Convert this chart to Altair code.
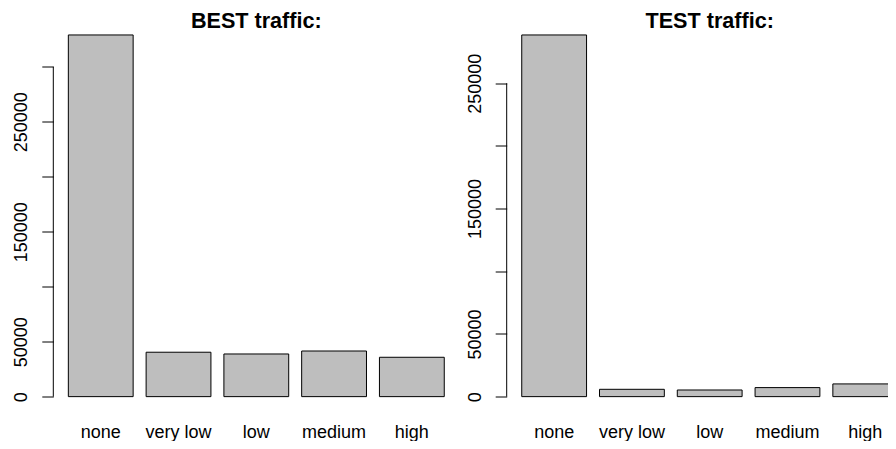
import altair as alt
import pandas as pd

categories = ["none", "very low", "low", "medium", "high"]
best_values = [329000, 40400, 38800, 41500, 35800]
test_values = [288500, 5850, 5300, 7200, 10150]
best_ticks = [0, 50000, 100000, 150000, 200000, 250000, 300000]
best_tick_labels = [0, 50000, 150000, 250000]
test_ticks = [0, 50000, 100000, 150000, 200000, 250000]
test_tick_labels = [0, 50000, 150000, 250000]
titles = ["BEST traffic:", "TEST traffic:"]

FONT = "Liberation Sans"
PANEL_W = 406          # width of one panel's plotting region
GAP = 453.4            # offset of the second panel's axis
PLOT_W = 834.7
PLOT_H = 390.6


def panel(values, ticks, tick_labels, title, x0):
    df = pd.DataFrame({"level": categories, "count": values})
    m = max(values)
    ymax = 1.04 * m
    yscale = alt.Scale(domain=[-0.04 * m, ymax], nice=False, zero=False)
    xscale = alt.Scale(domain=categories, paddingInner=0.2 / 1.2,
                       paddingOuter=0.232 / 1.2, range=[x0, x0 + PANEL_W])
    label_expr = (f"indexof({tick_labels}, datum.value) >= 0 ? "
                  "format(datum.value, 'd') : ''")
    yaxis = alt.Axis(title=None, orient="left", offset=-x0, values=ticks,
                     labelExpr=label_expr, domain=False, grid=False,
                     tickColor="black", tickSize=11.5, tickWidth=1,
                     labelAngle=270, labelAlign="center",
                     labelBaseline="alphabetic", labelPadding=15,
                     labelFont=FONT, labelFontSize=18, labelColor="black",
                     labelOverlap=False, labelFlush=False)
    xaxis = alt.Axis(title=None, orient="bottom", labelAngle=0, ticks=False,
                     tickSize=0, domain=False, grid=False, labelFont=FONT,
                     labelFontSize=18, labelColor="black",
                     labelBaseline="alphabetic", labelPadding=25.9,
                     labelOverlap=False)
    bars = alt.Chart(df).mark_bar(
        fill="#BEBEBE", stroke="black", strokeWidth=1, clip=True
    ).encode(
        x=alt.X("level:N", sort=categories, scale=xscale, axis=xaxis),
        y=alt.Y("count:Q", scale=yscale, axis=yaxis),
        y2=alt.datum(0),
    )
    line_df = pd.DataFrame({"lo": [ticks[0]], "hi": [ticks[-1]]})
    axis_line = alt.Chart(line_df).mark_rule(color="black", strokeWidth=1).encode(
        x=alt.value(x0),
        y=alt.Y("lo:Q", scale=yscale, axis=yaxis),
        y2="hi:Q",
    )
    head = alt.Chart(pd.DataFrame({"t": [title]})).mark_text(
        font=FONT, fontSize=21.6, fontWeight="bold", color="black",
        align="center", baseline="alphabetic", dy=7.5
    ).encode(
        x=alt.XDatum("low", type="nominal", bandPosition=0.5),
        y=alt.YDatum(ymax, type="quantitative"),
        text="t:N",
    )
    return alt.layer(bars, axis_line, head)


left = panel(best_values, best_ticks, best_tick_labels, titles[0], 0)
right = panel(test_values, test_ticks, test_tick_labels, titles[1], GAP)

chart = alt.layer(left, right).resolve_scale(
    x="independent", y="independent"
).properties(
    width=PLOT_W, height=PLOT_H,
    autosize=alt.AutoSizeParams(type="none"),
    padding={"left": 45.3, "top": 12.5, "right": 0, "bottom": 29.9},
    background="white",
).configure_view(strokeWidth=0)

chart.save("out.html", embed_options={"renderer": "svg", "actions": False})
